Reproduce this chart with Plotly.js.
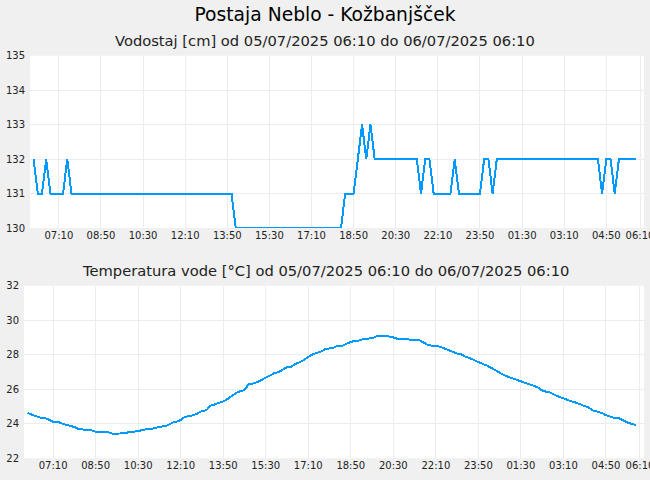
<!DOCTYPE html>
<html>
<head>
<meta charset="utf-8">
<script src="https://cdn.plot.ly/plotly-3.0.1.min.js"></script>
<style>
  html, body { margin: 0; padding: 0; background: #f0f0f0; }
  #chart { width: 650px; height: 480px; }
  .js-line { shape-rendering: crispEdges; }
</style>
</head>
<body>
<div id="chart"></div>
<script>
// 10 minute readings, 05/07/2025 06:10 .. 06/07/2025 06:00
var startTime = '2025-07-05T06:10:00';
var stepMinutes = 10;

var vodostaj = [
    132, 131, 131, 132, 131, 131, 131, 131, 132, 131,
    131, 131, 131, 131, 131, 131, 131, 131, 131, 131,
    131, 131, 131, 131, 131, 131, 131, 131, 131, 131,
    131, 131, 131, 131, 131, 131, 131, 131, 131, 131,
    131, 131, 131, 131, 131, 131, 131, 131, 130, 130,
    130, 130, 130, 130, 130, 130, 130, 130, 130, 130,
    130, 130, 130, 130, 130, 130, 130, 130, 130, 130,
    130, 130, 130, 130, 131, 131, 131, 132, 133, 132,
    133, 132, 132, 132, 132, 132, 132, 132, 132, 132,
    132, 132, 131, 132, 132, 131, 131, 131, 131, 131,
    132, 131, 131, 131, 131, 131, 131, 132, 132, 131,
    132, 132, 132, 132, 132, 132, 132, 132, 132, 132,
    132, 132, 132, 132, 132, 132, 132, 132, 132, 132,
    132, 132, 132, 132, 132, 131, 132, 132, 131, 132,
    132, 132, 132, 132
];

var temperatura = [
    24.62, 24.52, 24.44, 24.35, 24.35, 24.25, 24.12, 24.12, 24.02, 23.94,
    23.88, 23.81, 23.69, 23.69, 23.65, 23.62, 23.54, 23.54, 23.54, 23.50,
    23.42, 23.42, 23.42, 23.45, 23.54, 23.54, 23.56, 23.65, 23.67, 23.71,
    23.74, 23.83, 23.85, 23.92, 24.06, 24.12, 24.22, 24.40, 24.45, 24.50,
    24.60, 24.75, 24.78, 25.05, 25.12, 25.20, 25.30, 25.43, 25.60, 25.78,
    25.89, 25.95, 26.30, 26.33, 26.41, 26.53, 26.66, 26.80, 26.93, 26.99,
    27.13, 27.28, 27.30, 27.47, 27.57, 27.70, 27.88, 28.02, 28.11, 28.19,
    28.32, 28.35, 28.42, 28.52, 28.52, 28.63, 28.75, 28.79, 28.83, 28.92,
    28.92, 28.95, 29.06, 29.06, 29.06, 29.06, 29.00, 28.92, 28.92, 28.92,
    28.86, 28.86, 28.86, 28.72, 28.59, 28.52, 28.52, 28.46, 28.36, 28.25,
    28.17, 28.07, 28.02, 27.88, 27.80, 27.68, 27.57, 27.47, 27.38, 27.24,
    27.07, 26.95, 26.82, 26.72, 26.64, 26.55, 26.47, 26.37, 26.28, 26.20,
    26.10, 25.93, 25.85, 25.80, 25.66, 25.56, 25.47, 25.39, 25.29, 25.22,
    25.12, 25.02, 24.93, 24.77, 24.72, 24.63, 24.50, 24.42, 24.33, 24.33,
    24.20, 24.08, 24.00, 23.92
];

var tickTimes = [
    '2025-07-05 07:10', '2025-07-05 08:50', '2025-07-05 10:30', '2025-07-05 12:10',
    '2025-07-05 13:50', '2025-07-05 15:30', '2025-07-05 17:10', '2025-07-05 18:50',
    '2025-07-05 20:30', '2025-07-05 22:10', '2025-07-05 23:50', '2025-07-06 01:30',
    '2025-07-06 03:10', '2025-07-06 04:50', '2025-07-06 06:10'
];
var tickLabels = [
    '07:10', '08:50', '10:30', '12:10', '13:50', '15:30', '17:10', '18:50',
    '20:30', '22:10', '23:50', '01:30', '03:10', '04:50', '06:10'
];

var xRange = ['2025-07-05 06:01:30', '2025-07-06 06:19:30'];

function timeAt(i) {
    var d = new Date(Date.parse(startTime + 'Z') + i * stepMinutes * 60000);
    return d.toISOString().slice(0, 16).replace('T', ' ');
}

var times = [];
for (var i = 0; i < vodostaj.length; ++i) {
    times.push(timeAt(i));
}

var lineColor = '#0099ff';
var gridColor = '#ececec';
var tickFont = { family: 'DejaVu Sans', size: 10, color: '#222' };

var trace1 = {
    x: times,
    y: vodostaj,
    type: 'scatter',
    mode: 'lines',
    line: { color: lineColor, width: 2 },
    xaxis: 'x',
    yaxis: 'y',
    hoverinfo: 'skip',
    showlegend: false
};

var trace2 = {
    x: times,
    y: temperatura,
    type: 'scatter',
    mode: 'lines',
    line: { color: lineColor, width: 2 },
    xaxis: 'x2',
    yaxis: 'y2',
    hoverinfo: 'skip',
    showlegend: false
};

function timeAxis(domain, anchor) {
    return {
        type: 'date',
        domain: domain,
        anchor: anchor,
        range: xRange,
        tickmode: 'array',
        tickvals: tickTimes,
        ticktext: tickLabels,
        ticklabeloverflow: 'allow',
        showgrid: true,
        gridcolor: gridColor,
        zeroline: false,
        showline: false,
        ticks: '',
        tickfont: tickFont,
        fixedrange: true
    };
}

function valueAxis(domain, anchor, range, dtick) {
    return {
        domain: domain,
        anchor: anchor,
        range: range,
        tick0: range[0],
        dtick: dtick,
        showgrid: true,
        gridcolor: gridColor,
        zeroline: false,
        showline: false,
        ticks: '',
        ticklabelstandoff: 4,
        tickfont: tickFont,
        fixedrange: true
    };
}

var layout = {
    width: 650,
    height: 480,
    margin: { l: 0, r: 0, t: 0, b: 0 },
    paper_bgcolor: '#f0f0f0',
    plot_bgcolor: '#ffffff',
    font: { family: 'DejaVu Sans', color: '#000' },
    title: {
        text: 'Postaja Neblo - Kožbanjšček',
        font: { family: 'DejaVu Sans', size: 18.7, color: '#000' },
        x: 0.5,
        xanchor: 'center',
        y: 1 - 14 / 480,
        yanchor: 'middle'
    },
    xaxis: timeAxis([30 / 650, 644 / 650], 'y'),
    yaxis: valueAxis([1 - 228 / 480, 1 - 55.7 / 480], 'x', [130, 135], 1),
    xaxis2: timeAxis([24 / 650, 644 / 650], 'y2'),
    yaxis2: valueAxis([1 - 458.3 / 480, 1 - 285.7 / 480], 'x2', [22, 32], 2),
    annotations: [
        {
            text: 'Vodostaj [cm] od 05/07/2025 06:10 do 06/07/2025 06:10',
            xref: 'paper', yref: 'paper',
            x: 0.5, y: 1 - 40 / 480,
            xanchor: 'center', yanchor: 'middle',
            showarrow: false,
            font: { family: 'DejaVu Sans', size: 14.7, color: '#222' }
        },
        {
            text: 'Temperatura vode [°C] od 05/07/2025 06:10 do 06/07/2025 06:10',
            xref: 'paper', yref: 'paper',
            x: 0.5, y: 1 - 270 / 480,
            xanchor: 'center', yanchor: 'middle',
            showarrow: false,
            font: { family: 'DejaVu Sans', size: 14.7, color: '#222' }
        }
    ]
};

var config = { staticPlot: true, displayModeBar: false };

Plotly.newPlot('chart', [trace1, trace2], layout, config);
</script>
</body>
</html>
